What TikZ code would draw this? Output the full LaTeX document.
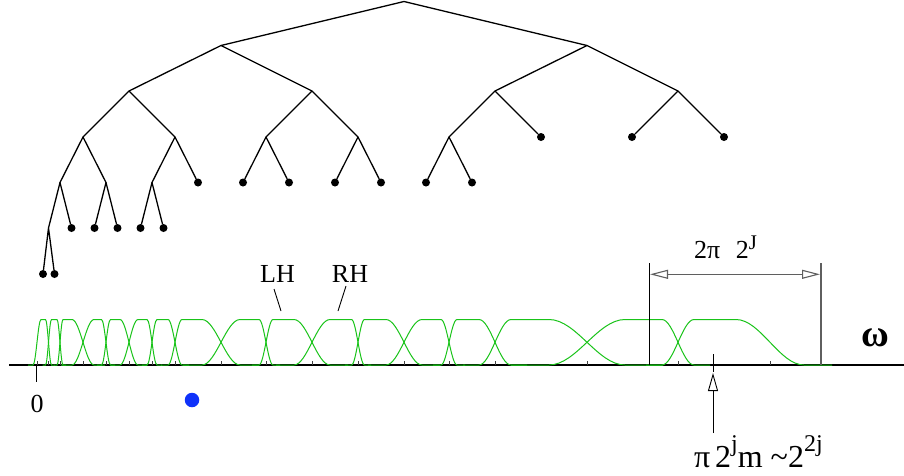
\documentclass[tikz,border=0pt]{standalone}
\usepackage{fontspec}
\usepackage{graphicx}
\setmainfont{Liberation Serif}
\usetikzlibrary{arrows.meta}
\definecolor{wgreen}{RGB}{25,195,25}
\definecolor{dotblue}{RGB}{15,50,250}
\definecolor{dimgray}{RGB}{95,95,95}
\newcommand\myup[3]{\raisebox{#1}{\scalebox{#2}{#3}}}
\begin{document}
\begin{tikzpicture}[x=1pt,y=-1pt,
  tree/.style={line width=1.3pt, line join=round, line cap=round},
  leaf/.style={circle, fill=black, inner sep=0pt, minimum size=8pt},
  win/.style={wgreen, line width=1pt},
  tickmark/.style={black!75, line width=0.9pt},
  lbl/.style={inner sep=0pt, font=\fontsize{26}{30}\selectfont},
  ptr/.style={line width=0.9pt}
]
\useasboundingbox (0,0) rectangle (904,475);

% ---------------- tree ----------------
\coordinate (r) at (404,1.5);
\coordinate (a) at (221,45.5);
\coordinate (b) at (587,45.5);
\coordinate (aa) at (129,91);
\coordinate (ab) at (312,91);
\coordinate (ba) at (495,91);
\coordinate (bb) at (678,91);
\coordinate (aaa) at (83,137);
\coordinate (aab) at (175,137);
\coordinate (aba) at (266,137);
\coordinate (abb) at (358,137);
\coordinate (baa) at (449,137);
\node[leaf] (bab) at (541,137) {};
\node[leaf] (bba) at (632,137) {};
\node[leaf] (bbb) at (724,137) {};
\coordinate (aaaa) at (60,182.5);
\coordinate (aaab) at (106,182.5);
\coordinate (aaba) at (152,182.5);
\node[leaf] (aabb) at (198,182.5) {};
\node[leaf] (abaa) at (243,182.5) {};
\node[leaf] (abab) at (289,182.5) {};
\node[leaf] (abba) at (335,182.5) {};
\node[leaf] (abbb) at (381,182.5) {};
\node[leaf] (baaa) at (426,182.5) {};
\node[leaf] (baab) at (472,182.5) {};
\coordinate (aaaaa) at (48.5,228);
\node[leaf] (aaaab) at (71.5,228) {};
\node[leaf] (aaaba) at (94.5,228) {};
\node[leaf] (aaabb) at (117.5,228) {};
\node[leaf] (aabaa) at (140.5,228) {};
\node[leaf] (aabab) at (163.5,228) {};
\node[leaf] (aaaaaa) at (43,274) {};
\node[leaf] (aaaaab) at (54.5,274) {};

\draw[tree] (a) -- (r) -- (b);
\draw[tree] (aa) -- (a) -- (ab);
\draw[tree] (ba) -- (b) -- (bb);
\draw[tree] (aaa) -- (aa) -- (aab);
\draw[tree] (aba) -- (ab) -- (abb);
\draw[tree] (baa) -- (ba) -- (bab);
\draw[tree] (bba) -- (bb) -- (bbb);
\draw[tree] (aaaa) -- (aaa) -- (aaab);
\draw[tree] (aaba) -- (aab) -- (aabb);
\draw[tree] (abaa) -- (aba) -- (abab);
\draw[tree] (abba) -- (abb) -- (abbb);
\draw[tree] (baaa) -- (baa) -- (baab);
\draw[tree] (aaaaa) -- (aaaa) -- (aaaab);
\draw[tree] (aaaba) -- (aaab) -- (aaabb);
\draw[tree] (aabaa) -- (aaba) -- (aabab);
\draw[tree] (aaaaaa) -- (aaaaa) -- (aaaaab);

% ---------------- axis ----------------
\coordinate (axl) at (9,365);
\coordinate (axr) at (904,365);
\draw[line width=1.4pt] (axl) -- (axr);
\foreach \t in {37,48.5,60,83,106,129,152,175,221,266,312,358,404,449,495,587,678,770}
  \draw[tickmark] (\t,361) -- (\t,365);
\coordinate (z0) at (36.5,364);
\coordinate (z1) at (36.5,382);
\draw[line width=1.8pt] (z0) -- (z1);

% ---------------- windows ----------------
\foreach \a/\b/\ha/\hb/\ea/\eb in {
37/48.5/4/3/5/3,
48.5/60/3/3/3/3,
60/83/3/11/3/11,
83/106/11/4.5/11/4.5,
106/129/4.5/9/4.5/9,
129/152/9/5/9/5,
152/175/5/7/5/7,
175/221/7/19/7/19,
221/266/19/7/19/7,
266/312/7/18/7/18,
312/358/18/6.5/18/6.5,
358/404/6.5/18/6.5/18,
404/449/18/8/18/8,
449/495/8/16/8/16,
495/587/16/38/16/38,
587/678/38/16/38/16,
678/770/16/34/16/28}
{
\draw[win] ({\a-\ha-\ea},365) -- ({\a-\ha},365)
  .. controls ({\a-0.28*\ha},365) and ({\a+0.28*\ha},319.5) .. ({\a+\ha},319.5)
  -- ({\b-\hb},319.5)
  .. controls ({\b-0.28*\hb},319.5) and ({\b+0.28*\hb},365) .. ({\b+\hb},365)
  -- ({\b+\hb+\eb},365);
}

% ---------------- labels ----------------
\node[lbl, anchor=base] (zero) at (37,412) {0};
\node[lbl, anchor=base] (lh) at (277.5,282) {LH};
\node[lbl, anchor=base] (rh) at (350,282) {RH};
\coordinate (lhp) at (281,311);
\coordinate (rhp) at (338,311);
\draw[ptr] (274,289) -- (lhp);
\draw[ptr] (346,286) -- (rhp);

\node[inner sep=0pt, anchor=base, font=\fontsize{38}{40}\selectfont\bfseries] (om) at (875.5,346.5) {ω};

% dimension 2 pi 2^J
\coordinate (dlt) at (649,263);
\coordinate (dlb) at (649,365);
\coordinate (drt) at (821,263);
\coordinate (drb) at (821,365);
\draw[line width=0.9pt] (dlt) -- (dlb);
\draw[dimgray, line width=1.2pt] (drt) -- (drb);
\coordinate (dl) at (650,274.3);
\coordinate (dr) at (820,274.3);
\draw[dimgray, line width=1.1pt, {Triangle[open, length=18pt, width=9pt]}-{Triangle[open, length=18pt, width=9pt]}] (dl) -- (dr);
\node[lbl, anchor=base west] (bw) at (694,258.3) {2π\hspace{0.6em}2\myup{0.33em}{0.8}{J}};

% center mark and arrow
\coordinate (mt) at (713,354);
\coordinate (mb) at (713,372);
\draw[line width=0.9pt] (mt) -- (mb);
\coordinate (ua) at (713,433);
\coordinate (ut) at (713,373);
\draw[line width=0.9pt, -{Triangle[open, length=18pt, width=10pt]}] (ua) -- (ut);
\node[inner sep=0pt, anchor=base west, font=\fontsize{32}{36}\selectfont] (ml) at (694,467)
  {π\hspace{0.15em}2\myup{0.5em}{0.75}{j}m \textasciitilde 2\myup{0.5em}{0.75}{2j}};

% blue dot
\node[circle, fill=dotblue, inner sep=0pt, minimum size=14.5pt] (bd) at (192,400) {};
\end{tikzpicture}
\end{document}
